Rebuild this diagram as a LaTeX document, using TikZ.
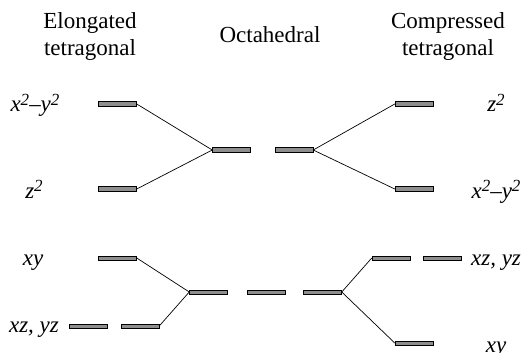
\documentclass[tikz,border=0pt]{standalone}
\usepackage{fontspec}
\setmainfont{Liberation Serif}
\usetikzlibrary{positioning}
\definecolor{lvGray}{HTML}{8E8E8E}
\newcommand{\sqr}{\raisebox{6.5pt}{\fontsize{17}{17}\selectfont 2}}

\begin{document}
\begin{tikzpicture}[x=1pt,y=-1pt,
  level/.style={draw=black, line width=0.5pt, fill=lvGray, minimum width=38pt, minimum height=4.5pt, inner sep=0pt},
  orb/.style={font=\fontsize{23}{26}\selectfont\itshape, anchor=base},
  head/.style={font=\fontsize{23}{27}\selectfont, align=center, anchor=base},
  split/.style={line width=0.7pt}]
  \useasboundingbox (0,0) rectangle (523,353);
  \node[head] (elong) at (90,56) {Elongated\\tetragonal};
  \node[head] (octa) at (270,43) {Octahedral};
  \node[head] (compr) at (448,56) {Compressed\\tetragonal};
  \node[level] (lxy2) at (117.5,104) {};
  \node[level] (lz2) at (117.5,189) {};
  \node[level] (lxy) at (117.5,258) {};
  \node[level] (lxza) at (88.5,326) {};
  \node[level] (lxzb) at (140,326) {};
  \node[level] (oega) at (231.5,150) {};
  \node[level] (oegb) at (294,150) {};
  \node[level] (otga) at (208.5,292) {};
  \node[level] (otgb) at (266,292) {};
  \node[level] (otgc) at (322.5,292) {};
  \node[level] (rz2) at (414,104) {};
  \node[level] (rxy2) at (414,189) {};
  \node[level] (rxza) at (391,258) {};
  \node[level] (rxzb) at (442.5,258) {};
  \node[level] (rxy) at (414,343) {};
  \node[orb] (tlxy2) at (35,112) {x\sqr–y\sqr};
  \node[orb] (tlz2) at (34,198) {z\sqr};
  \node[orb] (tlxy) at (33,265) {xy};
  \node[orb] (tlxz) at (34,332) {xz, yz};
  \node[orb] (trz2) at (496,112) {z\sqr};
  \node[orb] (trxy2) at (496,198) {x\sqr–y\sqr};
  \node[orb] (trxz) at (496,265) {xz, yz};
  \node[orb] (trxy) at (496,352) {xy};
  \draw[split] (lxy2.east) -- (oega.west);
  \draw[split] (lz2.east) -- (oega.west);
  \draw[split] (oegb.east) -- (rz2.west);
  \draw[split] (oegb.east) -- (rxy2.west);
  \draw[split] (lxy.east) -- (otga.west);
  \draw[split] (lxzb.east) -- (otga.west);
  \draw[split] (otgc.east) -- (rxza.west);
  \draw[split] (otgc.east) -- (rxy.west);
\end{tikzpicture}
\end{document}
